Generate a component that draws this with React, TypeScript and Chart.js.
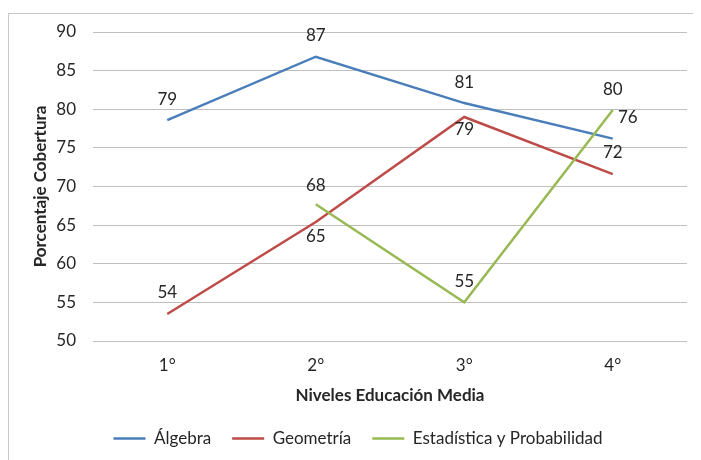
import React, { useEffect, useRef } from "react";
import { Chart, registerables } from "chart.js";

Chart.register(...registerables);

const categories = ["1°", "2°", "3°", "4°"];
const algebra = [78.6, 86.8, 80.8, 76.2];
const geometria = [53.5, 65.4, 79, 71.6];
const estadistica = [null, 67.7, 55, 79.9];
const seriesNames = ["Álgebra", "Geometría", "Estadística y Probabilidad"];
const yTicks = [50, 55, 60, 65, 70, 75, 80, 85, 90];

const COLORS = ["#4A7EBB", "#BE4B48", "#98B954"];
// label offsets (dx, dy) per series / point
const LABEL_OFFSETS = [
  [[0, -21], [0, -21], [0, -21], [15, -21]],
  [[0, -21], [0, 14], [0, 13], [0, -22]],
  [[0, -21], [0, -19], [0, -21], [0, -21]],
];

const FONT = "Lato, 'Open Sans', sans-serif";
const FS = 17;

const dataLabelPlugin = {
  id: "dataLabelPlugin",
  afterDatasetsDraw(chart: any) {
    const ctx = chart.ctx;
    ctx.save();
    ctx.font = `${FS}px ${FONT}`;
    ctx.fillStyle = "#262626";
    ctx.textAlign = "center";
    ctx.textBaseline = "middle";
    chart.data.datasets.forEach((ds: any, i: number) => {
      const meta = chart.getDatasetMeta(i);
      meta.data.forEach((el: any, j: number) => {
        const v = ds.data[j];
        if (v === null || v === undefined) return;
        const off = LABEL_OFFSETS[i][j];
        ctx.fillText(String(Math.round(v)), el.x + off[0], el.y + off[1]);
      });
    });
    ctx.restore();
  },
};

export default function App() {
  const ref = useRef<HTMLCanvasElement>(null);
  useEffect(() => {
    document.documentElement.style.overflow = "hidden";
    document.body.style.overflow = "hidden";
    const seriesData = [algebra, geometria, estadistica];
    const chart = new Chart(ref.current as HTMLCanvasElement, {
      type: "line",
      data: {
        labels: categories,
        datasets: seriesData.map((d, i) => ({
          label: seriesNames[i],
          data: d as any,
          borderColor: COLORS[i],
          backgroundColor: COLORS[i],
          borderWidth: 2.5,
          pointRadius: 0,
          pointHoverRadius: 0,
          tension: 0,
          spanGaps: false,
          order: 3 - i,
        })),
      },
      options: {
        animation: false,
        responsive: true,
        maintainAspectRatio: false,
        layout: { padding: { top: 18, right: 14, bottom: 3, left: 20 } },
        plugins: {
          tooltip: { enabled: false },
          legend: {
            position: "bottom",
            labels: {
              boxWidth: 32,
              boxHeight: 0,
              padding: 21,
              color: "#262626",
              font: { family: FONT, size: FS },
              sort: (a: any, b: any) => a.datasetIndex - b.datasetIndex,
            },
          },
        },
        scales: {
          x: {
            offset: true,
            grid: { display: false, drawTicks: false },
            border: { display: false },
            ticks: {
              padding: 14,
              color: "#262626",
              font: { family: FONT, size: FS },
            },
            title: {
              display: true,
              text: "Niveles Educación Media",
              color: "#262626",
              font: { family: FONT, size: FS, weight: "bold" },
              padding: { top: 0, bottom: 3 },
            },
            afterFit: (s: any) => {
              s.height = 68;
            },
          },
          y: {
            min: 50,
            max: 90,
            afterBuildTicks: (s: any) => {
              s.ticks = yTicks.map((v) => ({ value: v }));
            },
            grid: { color: "#BFBFBF", lineWidth: 1, drawTicks: false },
            border: { display: false },
            ticks: {
              padding: 17,
              color: "#262626",
              font: { family: FONT, size: FS },
            },
            title: {
              display: true,
              text: "Porcentaje Cobertura",
              color: "#262626",
              font: { family: FONT, size: FS, weight: "bold" },
              padding: { top: 1, bottom: 0 },
            },
            afterFit: (s: any) => {
              s.width = 64;
              s.paddingTop = 0;
              s.paddingBottom = 0;
            },
          },
        },
      },
      plugins: [dataLabelPlugin],
    });
    return () => chart.destroy();
  }, []);

  return (
    <div style={{ paddingTop: 5 }}>
      <div
        style={{
          position: "relative",
          width: 692,
          height: 446,
          borderTop: "1px solid #C8C8C8",
          borderLeft: "1px solid #C8C8C8",
        }}
      >
        <canvas ref={ref} />
      </div>
    </div>
  );
}
